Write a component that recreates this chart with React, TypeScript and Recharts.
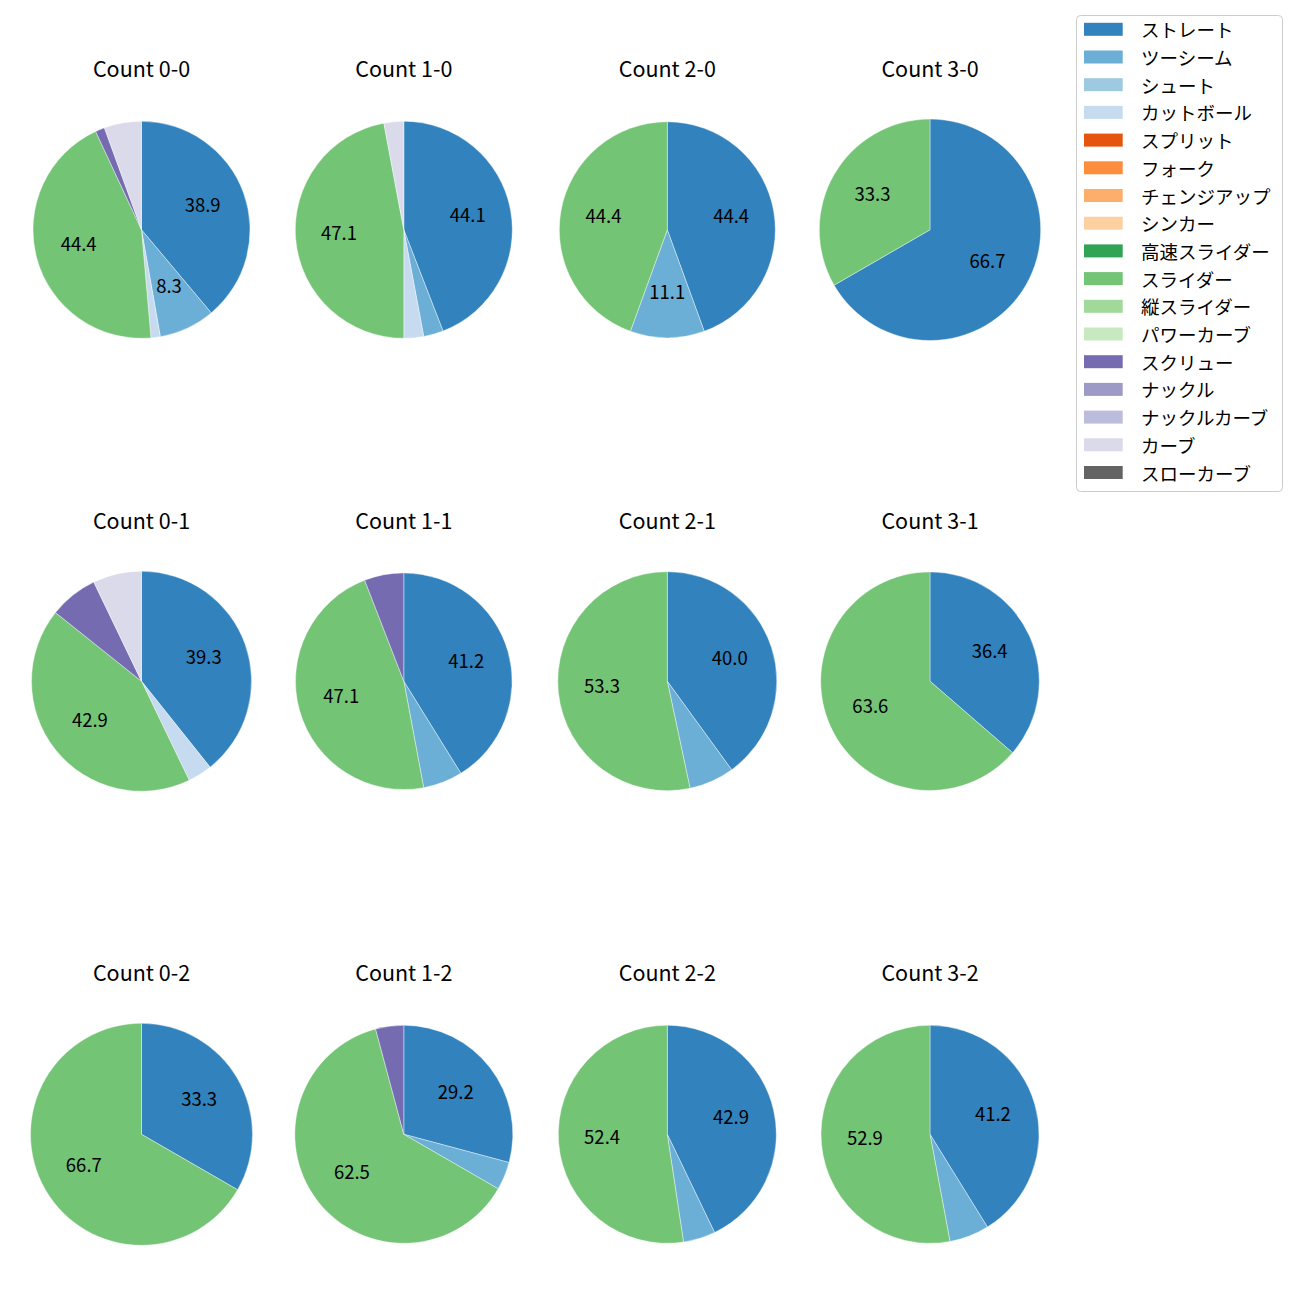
import React from 'react';
import { PieChart, Pie, Cell } from 'recharts';

const pitchTypes = [
  'ストレート', 'ツーシーム', 'シュート', 'カットボール', 'スプリット', 'フォーク',
  'チェンジアップ', 'シンカー', '高速スライダー', 'スライダー', '縦スライダー',
  'パワーカーブ', 'スクリュー', 'ナックル', 'ナックルカーブ', 'カーブ', 'スローカーブ',
];

const pitchColors = [
  '#3182bd', '#6baed6', '#9ecae1', '#c6dbef', '#e6550d', '#fd8d3c',
  '#fdae6b', '#fdd0a2', '#31a354', '#74c476', '#a1d99b',
  '#c7e9c0', '#756bb1', '#9e9ac8', '#bcbddc', '#dadaeb', '#636363',
];

const titles = [
  'Count 0-0', 'Count 1-0', 'Count 2-0', 'Count 3-0',
  'Count 0-1', 'Count 1-1', 'Count 2-1', 'Count 3-1',
  'Count 0-2', 'Count 1-2', 'Count 2-2', 'Count 3-2',
];

// pitch counts per ball-strike count, in pitchTypes order
const count00 = [28, 6, 0, 1, 0, 0, 0, 0, 0, 32, 0, 0, 1, 0, 0, 4, 0];
const count10 = [15, 1, 0, 1, 0, 0, 0, 0, 0, 16, 0, 0, 0, 0, 0, 1, 0];
const count20 = [4, 1, 0, 0, 0, 0, 0, 0, 0, 4, 0, 0, 0, 0, 0, 0, 0];
const count30 = [2, 0, 0, 0, 0, 0, 0, 0, 0, 1, 0, 0, 0, 0, 0, 0, 0];
const count01 = [11, 0, 0, 1, 0, 0, 0, 0, 0, 12, 0, 0, 2, 0, 0, 2, 0];
const count11 = [7, 1, 0, 0, 0, 0, 0, 0, 0, 8, 0, 0, 1, 0, 0, 0, 0];
const count21 = [6, 1, 0, 0, 0, 0, 0, 0, 0, 8, 0, 0, 0, 0, 0, 0, 0];
const count31 = [4, 0, 0, 0, 0, 0, 0, 0, 0, 7, 0, 0, 0, 0, 0, 0, 0];
const count02 = [1, 0, 0, 0, 0, 0, 0, 0, 0, 2, 0, 0, 0, 0, 0, 0, 0];
const count12 = [7, 1, 0, 0, 0, 0, 0, 0, 0, 15, 0, 0, 1, 0, 0, 0, 0];
const count22 = [9, 1, 0, 0, 0, 0, 0, 0, 0, 11, 0, 0, 0, 0, 0, 0, 0];
const count32 = [7, 1, 0, 0, 0, 0, 0, 0, 0, 9, 0, 0, 0, 0, 0, 0, 0];

const panelCounts = [
  count00, count10, count20, count30,
  count01, count11, count21, count31,
  count02, count12, count22, count32,
];

// layout
const colCenters = [141.5, 403.8, 667.3, 930];
const rowCenters = [229.8, 681.2, 1134.3];
const panelRadii = [
  108.5, 108.5, 108, 110.7,
  110, 108.3, 109.5, 109.3,
  111, 109, 109, 109,
];
const titleBaselines = [77, 529, 981];

const FONT = "'Noto Sans CJK JP', 'Noto Sans', sans-serif";
const RADIAN = Math.PI / 180;

const renderLabel = (props: any) => {
  const { cx, cy, midAngle, outerRadius, percent } = props;
  if (percent * 100 < 8) return null;
  const r = outerRadius * 0.6;
  const x = cx + r * Math.cos(-midAngle * RADIAN);
  const y = cy + r * Math.sin(-midAngle * RADIAN);
  return (
    <text
      x={x}
      y={y - 3.5}
      textAnchor="middle"
      dominantBaseline="central"
      fontSize={18.5}
      fontFamily={FONT}
      fill="#000"
    >
      {(percent * 100).toFixed(1)}
    </text>
  );
};

export default function App() {
  const panels = panelCounts.map((counts, i) => {
    const data = counts
      .map((v, k) => ({ name: pitchTypes[k], value: v, color: pitchColors[k] }))
      .filter((d) => d.value > 0);
    return {
      data,
      cx: colCenters[i % 4],
      cy: rowCenters[Math.floor(i / 4)],
      r: panelRadii[i],
    };
  });

  return (
    <div style={{ position: 'absolute', left: 0, top: 0, width: 1300, height: 1300, background: '#fff' }}>
      <PieChart width={1300} height={1300} margin={{ top: 0, right: 0, bottom: 0, left: 0 }}>
        {panels.map((p, i) => (
          <Pie
            key={i}
            data={p.data}
            dataKey="value"
            nameKey="name"
            cx={p.cx}
            cy={p.cy}
            outerRadius={p.r}
            innerRadius={0}
            startAngle={90}
            endAngle={-270}
            isAnimationActive={false}
            labelLine={false}
            label={renderLabel}
            stroke="#ffffff"
            strokeWidth={0.4}
          >
            {p.data.map((d, k) => (
              <Cell key={k} fill={d.color} />
            ))}
          </Pie>
        ))}
      </PieChart>
      <svg
        width={1300}
        height={1300}
        style={{ position: 'absolute', left: 0, top: 0, pointerEvents: 'none' }}
      >
        {titles.map((t, i) => (
          <text
            key={t}
            x={colCenters[i % 4]}
            y={titleBaselines[Math.floor(i / 4)]}
            textAnchor="middle"
            fontSize={21.5}
            fontFamily={FONT}
            fill="#000"
          >
            {t}
          </text>
        ))}
        <rect x={1076.5} y={15.5} width={206} height={476} rx={4} ry={4} fill="#fff" fillOpacity={0.8} stroke="#cccccc" strokeWidth={1} />
        {pitchTypes.map((name, k) => {
          const cy = 29.3 + 27.7 * k;
          return (
            <g key={name}>
              <rect x={1084} y={cy - 6.5} width={38.7} height={13} fill={pitchColors[k]} />
              <text x={1141} y={cy} dominantBaseline="central" fontSize={18.5} fontFamily={FONT} fill="#000">
                {name}
              </text>
            </g>
          );
        })}
      </svg>
    </div>
  );
}
